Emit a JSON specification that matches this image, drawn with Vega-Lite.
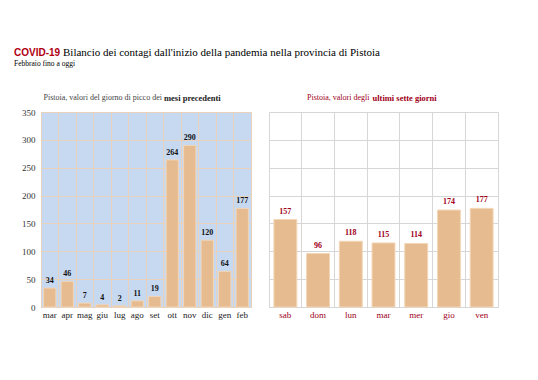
{
  "$schema": "https://vega.github.io/schema/vega-lite/v6.json",
  "background": "white",
  "padding": {"left": 14, "top": 46, "right": 5, "bottom": 5},
  "config": {
    "font": "Liberation Serif",
    "concat": {"spacing": 16}
  },
  "title": {
    "text": "COVID-19",
    "subtitle": "Febbraio fino a oggi",
    "anchor": "start",
    "font": "Liberation Sans",
    "fontWeight": "bold",
    "fontSize": 10,
    "color": "#B00010",
    "subtitleFont": "Liberation Serif",
    "subtitleFontSize": 7.5,
    "subtitleColor": "black",
    "subtitlePadding": 2,
    "dx": -7,
    "dy": 25
  },
  "vconcat": [
    {
      "title": {
        "text": "Bilancio dei contagi dall'inizio della pandemia nella provincia di Pistoia",
        "anchor": "start",
        "dx": 42,
        "fontSize": 11,
        "fontWeight": "normal",
        "color": "black",
        "offset": 36
      },
      "hconcat": [
        {
          "title": {
            "text": "mesi precedenti",
            "anchor": "start",
            "dx": 143,
            "dy": 13,
            "fontSize": 8.5,
            "fontWeight": "bold",
            "color": "#222222"
          },
          "vconcat": [
            {
              "width": 210,
              "height": 195,
              "title": {
                "text": "Pistoia, valori del giorno di picco dei",
                "anchor": "start",
                "dx": 22,
                "fontSize": 8,
                "fontWeight": "normal",
                "color": "#444444",
                "offset": 6
              },
              "view": {"fill": "#C6D9F1", "stroke": "#E8D2BC"},
              "data": {
                "values": [
                  {"mese": "mar", "valore": 34},
                  {"mese": "apr", "valore": 46},
                  {"mese": "mag", "valore": 7},
                  {"mese": "giu", "valore": 4},
                  {"mese": "lug", "valore": 2},
                  {"mese": "ago", "valore": 11},
                  {"mese": "set", "valore": 19},
                  {"mese": "ott", "valore": 264},
                  {"mese": "nov", "valore": 290},
                  {"mese": "dic", "valore": 120},
                  {"mese": "gen", "valore": 64},
                  {"mese": "feb", "valore": 177}
                ]
              },
              "encoding": {
                "x": {
                  "field": "mese",
                  "type": "nominal",
                  "sort": null,
                  "scale": {"paddingInner": 0, "paddingOuter": 0},
                  "axis": {
                    "title": null,
                    "labelAngle": 0,
                    "labelFontSize": 9,
                    "labelColor": "#222222",
                    "labelPadding": 3,
                    "domain": false,
                    "ticks": false,
                    "grid": true,
                    "gridColor": "#E8D2BC",
                    "bandPosition": 0
                  }
                },
                "y": {
                  "field": "valore",
                  "type": "quantitative",
                  "scale": {"domain": [0, 350]},
                  "axis": {
                    "title": null,
                    "values": [0, 50, 100, 150, 200, 250, 300, 350],
                    "labelFontSize": 9,
                    "labelColor": "#333333",
                    "labelPadding": 6,
                    "domain": false,
                    "ticks": false,
                    "grid": true,
                    "gridColor": "#E8D2BC"
                  }
                }
              },
              "layer": [
                {"mark": {"type": "bar", "width": {"band": 0.7}, "color": "#E6BB8F", "stroke": "#F2D6B8", "strokeWidth": 1}},
                {
                  "mark": {"type": "text", "dy": -7, "fontWeight": "bold", "fontSize": 8, "color": "#111111"},
                  "encoding": {"text": {"field": "valore", "type": "quantitative"}}
                }
              ]
            }
          ]
        },
        {
          "title": {
            "text": "ultimi sette giorni",
            "anchor": "start",
            "dx": 104,
            "dy": 13,
            "fontSize": 8.5,
            "fontWeight": "bold",
            "color": "#A00018"
          },
          "vconcat": [
            {
              "width": 229,
              "height": 195,
              "title": {
                "text": "Pistoia, valori degli",
                "anchor": "start",
                "dx": 38,
                "fontSize": 8,
                "fontWeight": "normal",
                "color": "#A00018",
                "offset": 10
              },
              "view": {"fill": "white", "stroke": "#D6D6D6"},
              "data": {
                "values": [
                  {"giorno": "sab", "valore": 157},
                  {"giorno": "dom", "valore": 96},
                  {"giorno": "lun", "valore": 118},
                  {"giorno": "mar", "valore": 115},
                  {"giorno": "mer", "valore": 114},
                  {"giorno": "gio", "valore": 174},
                  {"giorno": "ven", "valore": 177}
                ]
              },
              "encoding": {
                "x": {
                  "field": "giorno",
                  "type": "nominal",
                  "sort": null,
                  "scale": {"paddingInner": 0, "paddingOuter": 0},
                  "axis": {
                    "title": null,
                    "labelAngle": 0,
                    "labelFontSize": 9,
                    "labelColor": "#A00018",
                    "labelPadding": 3,
                    "domain": false,
                    "ticks": false,
                    "grid": true,
                    "gridColor": "#D6D6D6",
                    "bandPosition": 0
                  }
                },
                "y": {
                  "field": "valore",
                  "type": "quantitative",
                  "scale": {"domain": [0, 350]},
                  "axis": {
                    "title": null,
                    "values": [0, 50, 100, 150, 200, 250, 300, 350],
                    "labels": false,
                    "domain": false,
                    "ticks": false,
                    "grid": true,
                    "gridColor": "#D6D6D6"
                  }
                }
              },
              "layer": [
                {"mark": {"type": "bar", "width": {"band": 0.7}, "color": "#E6BB8F", "stroke": "#F2D6B8", "strokeWidth": 1}},
                {
                  "mark": {"type": "text", "dy": -8, "fontWeight": "bold", "fontSize": 8, "color": "#A00018"},
                  "encoding": {"text": {"field": "valore", "type": "quantitative"}}
                }
              ]
            }
          ]
        }
      ]
    }
  ]
}
